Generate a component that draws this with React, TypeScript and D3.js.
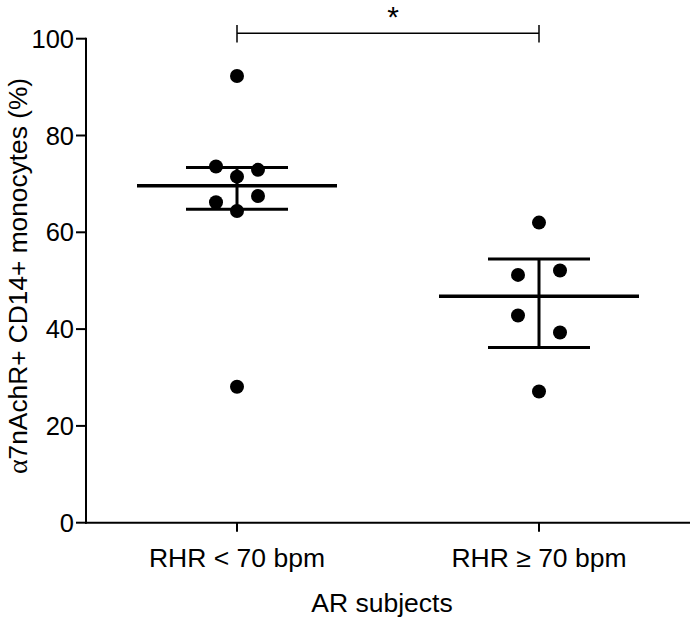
import React from 'react';
import * as d3 from 'd3';

// groups on the x axis
const groups = ['RHR < 70 bpm', 'RHR ≥ 70 bpm'];

// individual subjects, % of a7nAChR+ CD14+ monocytes
const lowValues = [92.3, 73.6, 72.9, 71.5, 67.5, 66.2, 64.4, 28.1];
const lowSlots = [0, -1, 1, 0, 1, -1, 0, 0];
const highValues = [62.0, 52.1, 51.2, 42.8, 39.3, 27.1];
const highSlots = [0, 1, -1, -1, 1, 0];

// mean and SEM as drawn
const means = [69.6, 46.8];
const semLow = [64.75, 36.2];
const semHigh = [73.4, 54.5];

const yTicks = [0, 20, 40, 60, 80, 100];

const font = 'Arial, "Liberation Sans", Helvetica, sans-serif';

const App = () => {
    const width = 694;
    const height = 620;

    const x = d3.scalePoint().domain(groups).range([86, 690]).padding(0.5);
    const y = d3.scaleLinear().domain([0, 100]).range([522.7, 38.7]);

    const slotWidth = 21;
    const r = 7;

    const series = [
        { name: groups[0], values: lowValues, slots: lowSlots },
        { name: groups[1], values: highValues, slots: highSlots },
    ];

    const x0 = x(groups[0]);
    const x1 = x(groups[1]);

    return (
        <svg width={width} height={height} style={{ position: 'absolute', left: 0, top: 0, background: 'white' }}>
            {/* y axis */}
            <line x1={86} x2={86} y1={y(100) - 1} y2={y(0) + 1} stroke="black" strokeWidth={2} />
            {yTicks.map((t) => (
                <g key={t}>
                    <line x1={76} x2={86} y1={y(t)} y2={y(t)} stroke="black" strokeWidth={2} />
                    <text x={74} y={y(t)} dy="0.36em" textAnchor="end" fontFamily={font} fontSize={25.5}>{t}</text>
                </g>
            ))}
            {/* x axis */}
            <line x1={85} x2={690} y1={y(0)} y2={y(0)} stroke="black" strokeWidth={2} />
            {groups.map((g) => (
                <g key={g}>
                    <line x1={x(g)} x2={x(g)} y1={y(0)} y2={y(0) + 9} stroke="black" strokeWidth={2} />
                    <text x={x(g)} y={566.5} textAnchor="middle" fontFamily={font} fontSize={26.5}>{g}</text>
                </g>
            ))}
            <text x={382} y={611.5} textAnchor="middle" fontFamily={font} fontSize={26.5}>AR subjects</text>
            <text transform={`translate(27, 276) rotate(-90)`} textAnchor="middle" fontFamily={font} fontSize={26.3}>
                <tspan fontFamily='"Liberation Serif", "DejaVu Serif", serif' fontSize={28}>α</tspan>7nAchR+ CD14+ monocytes (%)
            </text>

            {/* mean and SEM */}
            {series.map((s, i) => {
                const cx = x(s.name);
                return (
                    <g key={s.name} stroke="black">
                        <line x1={cx} x2={cx} y1={y(semHigh[i])} y2={y(semLow[i])} strokeWidth={3} />
                        <line x1={cx - 51} x2={cx + 51} y1={y(semHigh[i])} y2={y(semHigh[i])} strokeWidth={3} />
                        <line x1={cx - 51} x2={cx + 51} y1={y(semLow[i])} y2={y(semLow[i])} strokeWidth={3} />
                        <line x1={cx - 100} x2={cx + 100} y1={y(means[i])} y2={y(means[i])} strokeWidth={3.5} />
                    </g>
                );
            })}

            {/* points */}
            {series.map((s) =>
                s.values.map((v, j) => (
                    <circle key={s.name + j} cx={x(s.name) + s.slots[j] * slotWidth} cy={y(v)} r={r} fill="black" />
                ))
            )}

            {/* significance bar */}
            <g stroke="black" strokeWidth={1.5}>
                <line x1={x0} x2={x1} y1={33.3} y2={33.3} />
                <line x1={x0} x2={x0} y1={25} y2={42.5} />
                <line x1={x1} x2={x1} y1={25} y2={42.5} />
            </g>
            <text x={393} y={27} textAnchor="middle" fontFamily={font} fontSize={30}>*</text>
        </svg>
    );
};

export default App;
